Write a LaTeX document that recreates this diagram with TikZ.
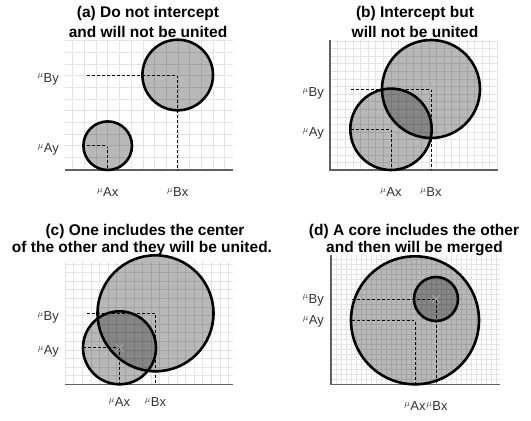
\documentclass[tikz,border=0pt]{standalone}
\usepackage{fontspec}
\setsansfont{Liberation Sans}
\usepackage{tikz}
\usetikzlibrary{positioning}

\tikzset{
  gridline/.style={black!11, line width=0.5pt},
  axisline/.style={black!62, line width=1.4pt},
  blob/.style={draw=black, line width=2.6pt, fill=black, fill opacity=0.28},
  guide/.style={dash pattern=on 3pt off 2pt, line width=0.8pt},
  centremark/.style={black!28, line width=0.5pt},
  ttl/.style={font=\fontsize{15.5}{18}\selectfont\sffamily\bfseries, anchor=base, inner sep=0pt},
  ticklab/.style={font=\fontsize{13}{15}\selectfont\sffamily, text=black!80, inner sep=0pt},
}
\newcommand{\mulab}[1]{\textsuperscript{$\mu$}#1}

\begin{document}
\begin{tikzpicture}[x=1pt, y=-1pt]
        \useasboundingbox (0,0) rectangle (531,421);
        % (a)
        \begin{scope}
          \clip (65,40) rectangle (233,170);
          \foreach \k in {-4,...,11} {
            \draw[gridline] ({107.7+\k*11.7},40) -- ({107.7+\k*11.7},170);
            \draw[gridline] (65,{145.7-\k*11.7}) -- (233,{145.7-\k*11.7});}
        \end{scope}
        \draw[axisline] (65,170) -- (233,170);
        \coordinate (aA) at (107.7,145.7);
        \coordinate (aB) at (177.7,75);
        \path[blob] (aB) circle (35.3);
        \path[blob] (aA) circle (24.3);
        \draw[guide] (87.3,145.7) -- (aA) -- (107.7,170);
        \draw[guide] (87.3,75) -- (aB) -- (177.7,170);
        \foreach \c in {aA,aB} {
          \draw[centremark] (\c) +(-4,-4) -- +(4,4) +(-4,4) -- +(4,-4);}
        \node[ticklab, anchor=east] (aAy) at (59,149.7) {\mulab{Ay}};
        \node[ticklab, anchor=east] (aBy) at (59,79) {\mulab{By}};
        \node[ticklab] (aAx) at (107.7,192) {\mulab{Ax}};
        \node[ticklab] (aBx) at (177.7,192) {\mulab{Bx}};
        \node[ttl] (aT1) at (148,17.5) {(a) Do not intercept};
        \node[ttl] (aT2) at (148,37) {and will not be united};
        % (b)
        \begin{scope}
          \clip (330,40) rectangle (498,170);
          \foreach \k in {0,...,22} {
            \draw[gridline] ({330+\k*7.6},40) -- ({330+\k*7.6},170);
            \draw[gridline] (330,{170-\k*7.6}) -- (498,{170-\k*7.6});}
        \end{scope}
        \draw[axisline] (330,40) -- (330,170) -- (498,170);
        \coordinate (bA) at (391,129.3);
        \coordinate (bB) at (431,89);
        \path[blob] (bB) circle (49);
        \path[blob] (bA) circle (40.7);
        \draw[guide] (351,129.3) -- (bA) -- (391,170);
        \draw[guide] (351,89) -- (bB) -- (431,170);
        \foreach \c in {bA,bB} {
          \draw[centremark] (\c) +(-4,-4) -- +(4,4) +(-4,4) -- +(4,-4);}
        \node[ticklab, anchor=east] (bAy) at (324,133.8) {\mulab{Ay}};
        \node[ticklab, anchor=east] (bBy) at (324,93.5) {\mulab{By}};
        \node[ticklab] (bAx) at (391,192) {\mulab{Ax}};
        \node[ticklab] (bBx) at (431,192) {\mulab{Bx}};
        \node[ttl] (bT1) at (415,17.5) {(b) Intercept but};
        \node[ttl] (bT2) at (415,37) {will not be united};
        % (c)
        \begin{scope}
          \clip (65,262) rectangle (233,384.3);
          \foreach \k in {0,...,20} {
            \draw[gridline] ({65+\k*8.6},262) -- ({65+\k*8.6},384.3);
            \draw[gridline] (65,{384.3-\k*8.6}) -- (233,{384.3-\k*8.6});}
        \end{scope}
        \draw[axisline] (65,384.3) -- (233,384.3);
        \coordinate (cA) at (119.5,347.8);
        \coordinate (cB) at (155.5,313.3);
        \path[blob] (cB) circle (58);
        \path[blob] (cA) circle (36.5);
        \draw[guide] (83.3,347.8) -- (cA) -- (119.5,384.3);
        \draw[guide] (87.3,313.3) -- (cB) -- (155.5,384.3);
        \foreach \c in {cA,cB} {
          \draw[centremark] (\c) +(-4,-4) -- +(4,4) +(-4,4) -- +(4,-4);}
        \node[ticklab, anchor=east] (cAy) at (59,351.5) {\mulab{Ay}};
        \node[ticklab, anchor=east] (cBy) at (59,317.5) {\mulab{By}};
        \node[ticklab] (cAx) at (119.5,402) {\mulab{Ax}};
        \node[ticklab] (cBx) at (155.5,402) {\mulab{Bx}};
        \node[ttl] (cT1) at (145,235.5) {(c) One includes the center};
        \node[ttl] (cT2) at (142,252.5) {of the other and they will be united.};
        % (d)
        \begin{scope}
          \clip (331,255) rectangle (500,384.3);
          \foreach \k in {0,...,34} {
            \draw[gridline] ({331+\k*5},255) -- ({331+\k*5},384.3);
            \draw[gridline] (331,{384.3-\k*5}) -- (500,{384.3-\k*5});}
        \end{scope}
        \draw[axisline] (331,255) -- (331,384.3) -- (500,384.3);
        \coordinate (dA) at (415,320.3);
        \coordinate (dB) at (436,299);
        \path[blob] (dA) circle (64);
        \path[blob] (dB) circle (22);
        \draw[guide] (352,320.3) -- (dA) -- (415,384.3);
        \draw[guide] (352,299) -- (dB) -- (436,384.3);
        \foreach \c in {dA,dB} {
          \draw[centremark] (\c) +(-4,-4) -- +(4,4) +(-4,4) -- +(4,-4);}
        \node[ticklab, anchor=east] (dAy) at (324,321.5) {\mulab{Ay}};
        \node[ticklab, anchor=east] (dBy) at (324,300) {\mulab{By}};
        \node[ticklab] (dAx) at (415,406) {\mulab{Ax}};
        \node[ticklab] (dBx) at (437,406) {\mulab{Bx}};
        \node[ttl] (dT1) at (414,235.5) {(d) A core includes the other};
        \node[ttl] (dT2) at (414.5,252.5) {and then will be merged};
      \end{tikzpicture}
\end{document}
